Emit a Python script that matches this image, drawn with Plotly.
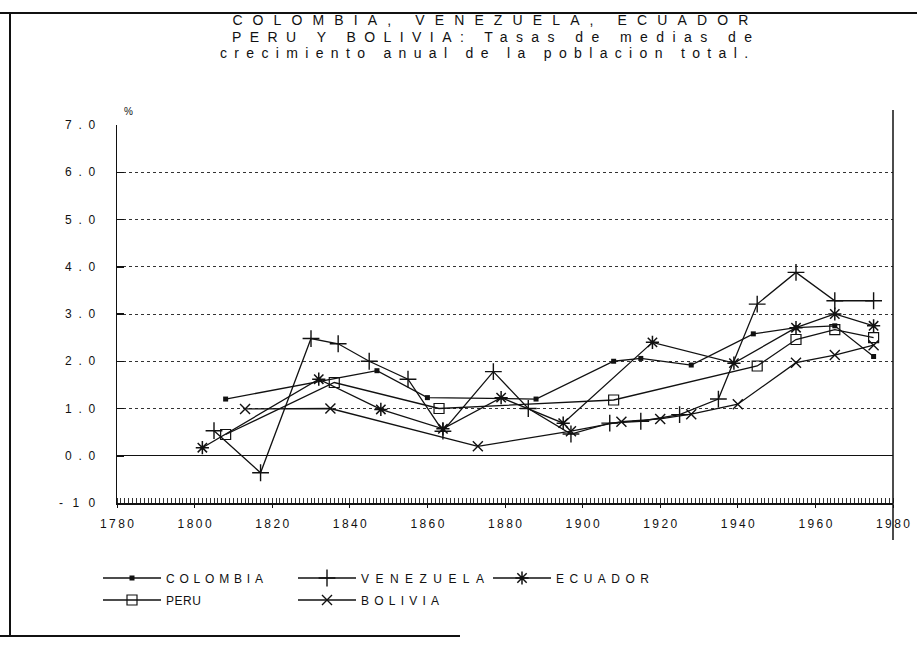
import json
import plotly.graph_objects as go

# ---- data ----
colombia_years = [1808, 1847, 1860, 1888, 1908, 1915, 1928, 1944, 1955, 1965, 1975]
colombia_rates = [1.20, 1.80, 1.23, 1.20, 2.00, 2.06, 1.92, 2.58, 2.71, 2.75, 2.10]

venezuela_years = [1805, 1817, 1830, 1837, 1845, 1855, 1864, 1877, 1886, 1897, 1907, 1915, 1925, 1935, 1945, 1955, 1965, 1975]
venezuela_rates = [0.53, -0.36, 2.48, 2.37, 2.00, 1.62, 0.52, 1.78, 1.00, 0.46, 0.69, 0.73, 0.87, 1.20, 3.21, 3.88, 3.28, 3.28]

ecuador_years = [1802, 1832, 1848, 1864, 1879, 1895, 1918, 1939, 1955, 1965, 1975]
ecuador_rates = [0.17, 1.62, 0.98, 0.57, 1.23, 0.69, 2.40, 1.96, 2.71, 3.00, 2.75]

peru_years = [1808, 1836, 1863, 1908, 1945, 1955, 1965, 1975]
peru_rates = [0.45, 1.55, 1.00, 1.18, 1.90, 2.46, 2.67, 2.50]

bolivia_years = [1813, 1835, 1873, 1897, 1910, 1920, 1928, 1940, 1955, 1965, 1975]
bolivia_rates = [0.99, 1.00, 0.20, 0.52, 0.72, 0.78, 0.88, 1.09, 1.97, 2.13, 2.34]

y_tickvals = [-1, 0, 1, 2, 3, 4, 5, 6, 7]
y_ticktext = ["- 1 0", "0.0", "1.0", "2.0", "3.0", "4.0", "5.0", "6.0", "7.0"]
x_tickvals = [1780, 1800, 1820, 1840, 1860, 1880, 1900, 1920, 1940, 1960, 1980]
x_ticktext = [str(v) for v in x_tickvals]

title_lines = ["COLOMBIA, VENEZUELA, ECUADOR",
               "PERU Y BOLIVIA: Tasas de medias de",
               "crecimiento anual de la poblacion total."]

FONT = "Liberation Sans"
BLACK = "#111111"

series = [
    ("COLOMBIA", colombia_years, colombia_rates, dict(symbol="square", size=5, color=BLACK), "legend"),
    ("VENEZUELA", venezuela_years, venezuela_rates, dict(symbol="cross-thin-open", size=12, color=BLACK, line=dict(width=1.4, color=BLACK)), "legend"),
    ("ECUADOR", ecuador_years, ecuador_rates, dict(symbol="asterisk-open", size=11, color=BLACK, line=dict(width=1.5, color=BLACK)), "legend"),
    ("PERU", peru_years, peru_rates, dict(symbol="square-open", size=10, color=BLACK, line=dict(width=1.2, color=BLACK)), "legend2"),
    ("BOLIVIA", bolivia_years, bolivia_rates, dict(symbol="x-thin-open", size=10, color=BLACK, line=dict(width=1.4, color=BLACK)), "legend2"),
]

fig = go.Figure()
for name, xs, ys, mk, lg in series:
    fig.add_trace(go.Scatter(x=xs, y=ys, name=name, mode="lines+markers",
                             line=dict(color=BLACK, width=1.3), marker=mk, legend=lg))

W, H = 917, 645
L, R, T, B = 117, 24, 125, 142
pw, ph = W - L - R, H - T - B

def px_x(p):
    return (p - L) / pw

def px_y(p):
    return (H - B - p) / ph

ITEMW = 58
legend_common = dict(orientation="h", xanchor="left", yanchor="middle",
                     entrywidth=195 - ITEMW - 15, entrywidthmode="pixels", itemwidth=ITEMW,
                     font=dict(family=FONT, size=12, color=BLACK),
                     bgcolor="rgba(0,0,0,0)", tracegroupgap=0, itemclick=False)

fig.update_layout(
    width=W, height=H,
    margin=dict(l=L, r=R, t=T, b=B, autoexpand=False),
    paper_bgcolor="white", plot_bgcolor="white",
    font=dict(family=FONT, size=12, color=BLACK),
    showlegend=True,
    legend=dict(x=px_x(98), y=px_y(578), **legend_common),
    legend2=dict(x=px_x(98), y=px_y(600), **legend_common),
    xaxis=dict(range=[1780, 1980], tickvals=x_tickvals, ticktext=x_ticktext,
               showgrid=False, zeroline=False, showline=True, linecolor=BLACK, linewidth=1.5,
               ticks="outside", ticklen=3, tickcolor=BLACK, ticklabelstandoff=6,
               minor=dict(dtick=1, tick0=1780, ticks="inside", ticklen=5, tickcolor="#333", tickwidth=1, showgrid=False),
               tickfont=dict(family=FONT, size=12, color=BLACK)),
    yaxis=dict(range=[-1, 7], tickvals=y_tickvals, ticktext=y_ticktext,
               showgrid=True, gridcolor="#333", griddash="dot", gridwidth=1,
               zeroline=True, zerolinecolor=BLACK, zerolinewidth=1.2,
               showline=True, linecolor=BLACK, linewidth=1.5,
               ticks="inside", ticklen=7, tickcolor=BLACK, tickwidth=1.5, ticklabelstandoff=18,
               tickfont=dict(family=FONT, size=12, color=BLACK)),
)

# title lines
title_centers = [490, 492, 484]
title_ys = [20, 37, 53]
for txt, cx, cy in zip(title_lines, title_centers, title_ys):
    fig.add_annotation(text=txt, x=px_x(cx), y=px_y(cy), xref="paper", yref="paper",
                       showarrow=False, xanchor="center", yanchor="middle",
                       font=dict(family=FONT, size=14, color=BLACK))

fig.add_annotation(text="%", x=px_x(128), y=px_y(112), xref="paper", yref="paper",
                   showarrow=False, xanchor="center", yanchor="middle",
                   font=dict(family=FONT, size=10, color=BLACK))

# page frame (scanned border) and plot right border
frame = [
    (px_x(10), px_y(13), px_x(10), px_y(636), 2),
    (px_x(0), px_y(13), px_x(917), px_y(13), 2),
    (px_x(0), px_y(636), px_x(460), px_y(636), 2),
    (1.0, px_y(110), 1.0, px_y(540), 1.5),
]
for x0, y0, x1, y1, w in frame:
    fig.add_shape(type="line", xref="paper", yref="paper", x0=x0, y0=y0, x1=x1, y1=y1,
                  line=dict(color=BLACK, width=w))

widths = {title_lines[0]: 516, title_lines[1]: 520, title_lines[2]: 528,
          "COLOMBIA": 97, "VENEZUELA": 123, "ECUADOR": 93, "PERU": 35, "BOLIVIA": 78,
          "- 1 0": 36}
for t in y_ticktext[1:]:
    widths[t] = 30
for t in x_ticktext:
    widths[t] = 34

js = """
document.body.style.margin = '0';
document.body.style.overflow = 'hidden';
var gd = document.getElementById('{plot_id}');
var W = %s;
gd.querySelectorAll('text').forEach(function(t){
  var s = t.textContent;
  if (W.hasOwnProperty(s)) {
    t.setAttribute('textLength', W[s]);
    t.setAttribute('lengthAdjust', 'spacing');
  }
});
""" % json.dumps(widths)

fig.write_html("out.html", post_script=js, config={"displayModeBar": False, "staticPlot": True})
